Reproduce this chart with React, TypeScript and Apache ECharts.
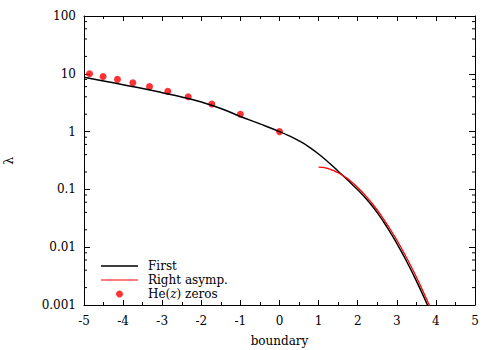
import React, { useEffect, useRef } from 'react';
import * as echarts from 'echarts';

// "First" curve: boundary vs lambda
const firstX = [-5, -4.5, -4, -3.5, -3, -2.5, -2, -1.5, -1, -0.5, 0, 0.25, 0.5, 0.75, 1, 1.25, 1.5, 1.75, 2, 2.25, 2.5, 2.75, 3, 3.25, 3.5, 3.75, 4];
const firstY = [8.71, 7.52, 6.47, 5.56, 4.72, 3.98, 3.24, 2.51, 1.83, 1.36, 1.0, 0.841, 0.692, 0.5465, 0.4098, 0.2951, 0.2065, 0.1437, 0.0983, 0.0649, 0.03958, 0.02226, 0.01168, 0.00572, 0.002615, 0.001128, 0.000462];

// "Right asymp." curve
const asympX = [1.0, 1.1, 1.2, 1.3, 1.4, 1.5, 1.6, 1.7, 1.8, 2.0, 2.2, 2.4, 2.6, 2.8, 3.0, 3.2, 3.4, 3.6, 3.8, 3.9];
const asympY = [0.242, 0.2397, 0.233, 0.2228, 0.2096, 0.1943, 0.1775, 0.1599, 0.1421, 0.108, 0.07805, 0.05374, 0.03532, 0.02216, 0.0133, 0.007629, 0.00419, 0.002203, 0.001108, 0.000775];

// He(z) zeros
const zerosX = [-4.8595, -4.5127, -4.1445, -3.7504, -3.3243, -2.857, -2.3344, -1.7321, -1.0, 0];
const zerosY = [10, 9, 8, 7, 6, 5, 4, 3, 2, 1];

// minor tick values on the log axis
const yMinorTicks = [0.002, 0.004, 0.006, 0.008, 0.02, 0.04, 0.06, 0.08, 0.2, 0.4, 0.6, 0.8, 2, 4, 6, 8, 20, 40, 60, 80];

const FONT = 'DejaVu Serif';

export default function App() {
  const ref = useRef<HTMLDivElement>(null);
  useEffect(() => {
    document.body.style.margin = '0';
    if (!ref.current) return;
    const chart = echarts.init(ref.current, undefined, { renderer: 'svg' });
    const axisLine = { show: true, onZero: false, lineStyle: { color: '#000', width: 1 } };
    const option: any = {
      animation: false,
      backgroundColor: '#fff',
      grid: { left: 84, right: 25, top: 16, bottom: 45, containLabel: false, outerBoundsMode: 'none' },
      legend: {
        orient: 'vertical',
        left: 101,
        top: 260,
        padding: 0,
        itemGap: 2,
        itemWidth: 37,
        itemHeight: 7,
        data: [
          { name: 'First', icon: 'path://M0,0H37V1.4H0Z' },
          { name: 'Right asymp.', icon: 'path://M0,0H37V1.2H0Z' },
          { name: 'He(z) zeros', icon: 'circle' },
        ],
        formatter: (n: string) => (n === 'He(z) zeros' ? 'He({i|z}) zeros' : n),
        textStyle: {
          fontFamily: FONT,
          fontSize: 12,
          color: '#000',
          padding: [0, 0, 0, 5],
          rich: { i: { fontFamily: FONT, fontSize: 12, fontStyle: 'italic', color: '#000' } },
        },
      },
      xAxis: [
        {
          type: 'value', min: -5, max: 5, interval: 1, position: 'bottom',
          name: 'boundary', nameLocation: 'middle', nameGap: 30,
          nameTextStyle: { fontFamily: FONT, fontSize: 12, color: '#000' },
          axisLine,
          axisTick: { show: true, inside: true, length: 5, lineStyle: { color: '#000' } },
          minorTick: { show: true, splitNumber: 2, length: 3, lineStyle: { color: '#000' } },
          axisLabel: { fontFamily: FONT, fontSize: 12, color: '#000', margin: 10 },
          splitLine: { show: false },
        },
        {
          type: 'value', min: -5, max: 5, interval: 1, position: 'top',
          axisLine,
          axisTick: { show: true, inside: true, length: 5, lineStyle: { color: '#000' } },
          minorTick: { show: true, splitNumber: 2, length: 3, lineStyle: { color: '#000' } },
          axisLabel: { show: false },
          splitLine: { show: false },
        },
      ],
      yAxis: [
        {
          type: 'log', logBase: 10, min: 0.001, max: 100, position: 'left',
          name: 'λ', nameLocation: 'middle', nameGap: 69,
          nameTextStyle: { fontFamily: FONT, fontSize: 13, color: '#000' },
          axisLine,
          axisTick: { show: true, inside: true, length: 6, lineStyle: { color: '#000' } },
          axisLabel: { fontFamily: FONT, fontSize: 12, color: '#000', margin: 8 },
          splitLine: { show: false },
        },
        {
          type: 'log', logBase: 10, min: 0.001, max: 100, position: 'right',
          axisLine,
          axisTick: { show: true, inside: true, length: 6, lineStyle: { color: '#000' } },
          axisLabel: { show: false },
          splitLine: { show: false },
        },
      ],
      series: [
        {
          type: 'custom',
          name: 'minorTicks',
          silent: true,
          xAxisIndex: 0,
          yAxisIndex: 0,
          data: yMinorTicks.map((v) => [-5, v]),
          renderItem: (params: any, api: any) => {
            const v = api.value(1);
            const p = api.coord([-5, v]);
            const q = api.coord([5, v]);
            return {
              type: 'group',
              children: [
                { type: 'line', shape: { x1: p[0], y1: p[1], x2: p[0] + 3, y2: p[1] }, style: { stroke: '#000', lineWidth: 1 } },
                { type: 'line', shape: { x1: q[0], y1: q[1], x2: q[0] - 3, y2: q[1] }, style: { stroke: '#000', lineWidth: 1 } },
              ],
            };
          },
        },
        {
          type: 'line',
          name: 'First',
          data: firstX.map((x, i) => [x, firstY[i]]),
          symbol: 'none',
          smooth: true,
          clip: true,
          lineStyle: { color: '#000', width: 1.5 },
          itemStyle: { color: '#000' },
        },
        {
          type: 'line',
          name: 'Right asymp.',
          data: asympX.map((x, i) => [x, asympY[i]]),
          symbol: 'none',
          smooth: true,
          clip: true,
          lineStyle: { color: '#ff0000', width: 1.3 },
          itemStyle: { color: '#ff0000' },
        },
        {
          type: 'scatter',
          name: 'He(z) zeros',
          data: zerosX.map((x, i) => [x, zerosY[i]]),
          symbol: 'circle',
          symbolSize: 7,
          itemStyle: { color: '#ff0000' },
        },
      ],
    };
    chart.setOption(option);
    return () => chart.dispose();
  }, []);
  return <div ref={ref} style={{ width: 500, height: 350 }} />;
}
